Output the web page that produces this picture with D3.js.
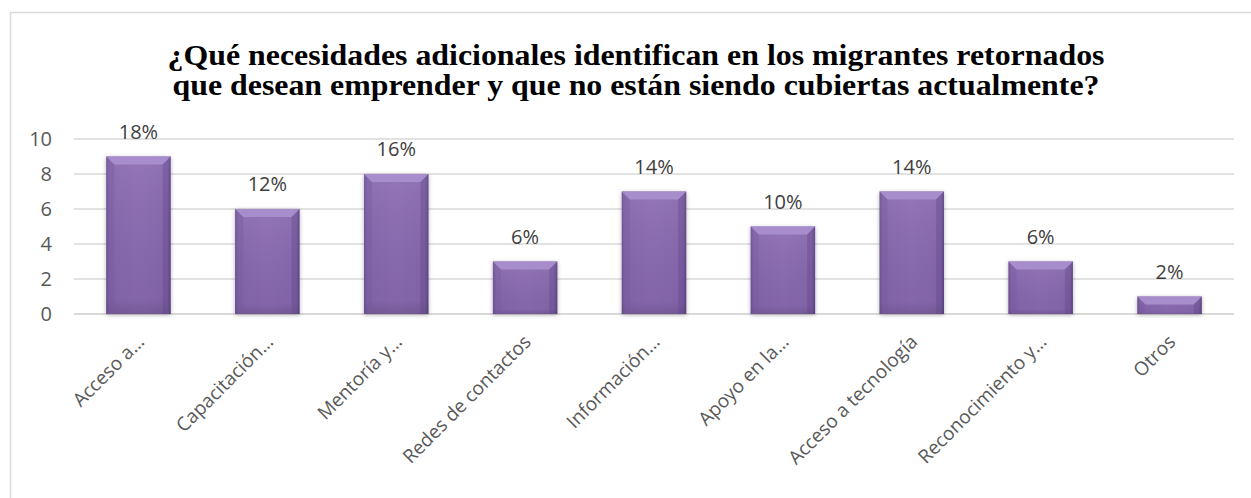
<!DOCTYPE html>
<html>
<head>
<meta charset="utf-8">
<script src="https://cdn.jsdelivr.net/npm/d3@7"></script>
<style>
  body { margin: 0; background: #fff; }
  .title { font-family: "Liberation Serif", "DejaVu Serif", "Times New Roman", serif; font-weight: bold; }
  .lbl { font-family: "Open Sans", "Noto Sans", sans-serif; }
</style>
</head>
<body>
<svg id="chart" width="1251" height="498"></svg>
<script>
// Chart data
const categories = ["Acceso a…", "Capacitación…", "Mentoría y…", "Redes de contactos",
  "Información…", "Apoyo en la…", "Acceso a tecnología", "Reconocimiento y…", "Otros"];
const counts = [9, 6, 8, 3, 7, 5, 7, 3, 1];
const percentLabels = ["18%", "12%", "16%", "6%", "14%", "10%", "14%", "6%", "2%"];
const yTicks = [0, 2, 4, 6, 8, 10];
const titleLines = ["¿Qué necesidades adicionales identifican en los migrantes retornados",
  "que desean emprender y que no están siendo cubiertas actualmente?"];

const W = 1251, H = 498;
const margin = {top: 139, right: 17, bottom: 184, left: 74};
const width = W - margin.left - margin.right,
      height = H - margin.top - margin.bottom;

const svg = d3.select("#chart");

// Outer chart border (only top and left are visible in the crop)
svg.append("rect")
    .attr("x", 10.5).attr("y", 12.5)
    .attr("width", W).attr("height", H)
    .attr("fill", "none")
    .attr("stroke", "#d9d9d9")
    .attr("stroke-width", 1.5);

// Title, stretched to the width the reference lines take
const titleWidths = [937, 927];
svg.append("g")
    .selectAll("text")
    .data(titleLines)
    .join("text")
    .attr("class", "title")
    .attr("x", 636)
    .attr("y", (d, i) => 65 + i * 30)
    .attr("text-anchor", "middle")
    .attr("font-size", 29)
    .attr("textLength", (d, i) => titleWidths[i])
    .attr("lengthAdjust", "spacingAndGlyphs")
    .attr("fill", "#000")
    .text(d => d);

// Bar gradients
const defs = svg.append("defs");
const body = defs.append("linearGradient").attr("id", "barBody")
    .attr("x1", 0).attr("x2", 1).attr("y1", 0).attr("y2", 0);
body.append("stop").attr("offset", "0").attr("stop-color", "#6a4e92");
body.append("stop").attr("offset", "0.05").attr("stop-color", "#8565ad");
body.append("stop").attr("offset", "0.5").attr("stop-color", "#8a6ab2");
body.append("stop").attr("offset", "0.95").attr("stop-color", "#8565ad");
body.append("stop").attr("offset", "1").attr("stop-color", "#5f4587");

const vert = defs.append("linearGradient").attr("id", "barShade")
    .attr("x1", 0).attr("x2", 0).attr("y1", 0).attr("y2", 1);
vert.append("stop").attr("offset", "0").attr("stop-color", "#fff").attr("stop-opacity", 0.08);
vert.append("stop").attr("offset", "0.9").attr("stop-color", "#000").attr("stop-opacity", 0.04);
vert.append("stop").attr("offset", "1").attr("stop-color", "#000").attr("stop-opacity", 0.15);

const shadow = defs.append("filter").attr("id", "shadow")
    .attr("x", "-20%").attr("y", "-10%").attr("width", "140%").attr("height", "130%");
shadow.append("feDropShadow").attr("dx", 0).attr("dy", 1).attr("stdDeviation", 2)
    .attr("flood-color", "#000").attr("flood-opacity", 0.3);

const g = svg.append("g")
    .attr("transform", `translate(${margin.left},${margin.top})`);

// Scales
const x = d3.scaleBand()
    .domain(categories)
    .range([0, width])
    .paddingInner(0.5)
    .paddingOuter(0.25);

const y = d3.scaleLinear()
    .domain([0, 10])
    .range([height, 0]);

// Gridlines
g.append("g")
    .selectAll("line")
    .data(yTicks)
    .join("line")
    .attr("x1", 0).attr("x2", width)
    .attr("y1", d => y(d)).attr("y2", d => y(d))
    .attr("stroke", "#d9d9d9")
    .attr("stroke-width", d => d === 0 ? 2 : 1.3);

// Y axis labels
g.append("g")
    .call(d3.axisLeft(y).tickValues(yTicks).tickSize(0).tickPadding(22))
    .call(a => a.select(".domain").remove())
    .selectAll("text")
    .attr("class", "lbl")
    .attr("font-size", 20)
    .attr("fill", "#595959");

// Bars
const bars = g.append("g")
    .selectAll("g")
    .data(counts)
    .join("g")
    .attr("transform", (d, i) => `translate(${x(categories[i])},0)`);

bars.append("rect")
    .attr("y", d => y(d))
    .attr("width", x.bandwidth())
    .attr("height", d => y(0) - y(d))
    .attr("fill", "url(#barBody)")
    .attr("filter", "url(#shadow)");

bars.append("rect")
    .attr("y", d => y(d))
    .attr("width", x.bandwidth())
    .attr("height", d => y(0) - y(d))
    .attr("fill", "url(#barShade)");

// Top bevel
const bev = 8;
bars.append("path")
    .attr("d", d => {
      const t = y(d), w = x.bandwidth();
      return `M0,${t} L${w},${t} L${w - bev},${t + bev} L${bev},${t + bev} Z`;
    })
    .attr("fill", "#a78dcb");
bars.append("path")
    .attr("d", d => {
      const t = y(d);
      return `M0,${t} L${bev},${t + bev} L${bev},${y(0)} L0,${y(0)} Z`;
    })
    .attr("fill", "#755a9c")
    .attr("opacity", 0.35);
bars.append("path")
    .attr("d", d => {
      const t = y(d), w = x.bandwidth();
      return `M${w},${t} L${w - bev},${t + bev} L${w - bev},${y(0)} L${w},${y(0)} Z`;
    })
    .attr("fill", "#5d4485")
    .attr("opacity", 0.35);

// Data labels
bars.append("text")
    .attr("class", "lbl")
    .attr("x", x.bandwidth() / 2)
    .attr("y", d => y(d) - 18)
    .attr("text-anchor", "middle")
    .attr("font-size", 20)
    .attr("fill", "#404040")
    .text((d, i) => percentLabels[i]);

// X axis labels, rotated
g.append("g")
    .attr("transform", `translate(0,${height})`)
    .call(d3.axisBottom(x).tickSize(0).tickPadding(0))
    .call(a => a.select(".domain").remove())
    .selectAll("text")
    .attr("class", "lbl")
    .attr("font-size", 19)
    .attr("fill", "#595959")
    .attr("text-anchor", "end")
    .attr("dy", 0)
    .attr("transform", "translate(7,29) rotate(-45)");
</script>
</body>
</html>
